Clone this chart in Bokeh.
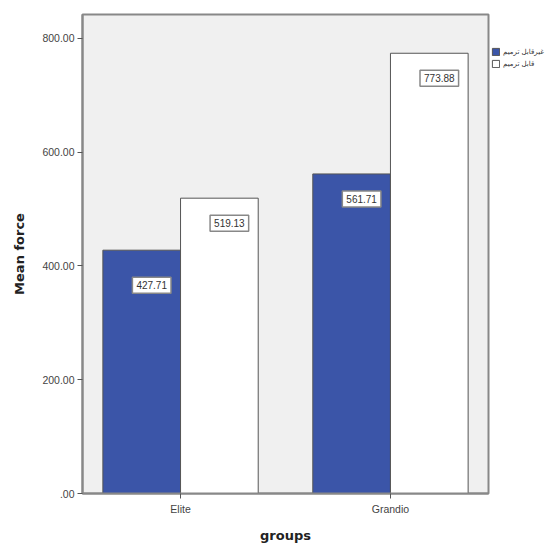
from bokeh.plotting import figure
from bokeh.models import (Range1d, ColumnDataSource, Legend, LegendItem, FixedTicker)
from bokeh.core.properties import value
from bokeh.transform import dodge
from bokeh.embed import file_html
from bokeh.resources import INLINE

groups = ["Elite", "Grandio"]
series_names = ["غیرقابل ترمیم", "قابل ترمیم"]
non_restorable = [427.71, 561.71]
restorable = [519.13, 773.88]
y_ticks = [0, 200, 400, 600, 800]
y_tick_labels = [".00", "200.00", "400.00", "600.00", "800.00"]

BLUE = "#3b55a8"
EDGE = "#555555"
BW = 0.37

xs = list(range(len(groups)))
src = ColumnDataSource(dict(
    x=xs,
    a=non_restorable,
    b=restorable,
    a_lbl=[f"{v:.2f}" for v in non_restorable],
    b_lbl=[f"{v:.2f}" for v in restorable],
    a_dy=[35, 25],
))

p = figure(frame_width=406, frame_height=479,
           x_range=Range1d(-0.467, 1.467), y_range=Range1d(0, 842),
           output_backend="svg", toolbar_location=None,
           min_border_left=82, min_border_right=70, min_border_top=14, min_border_bottom=50)
p.background_fill_color = "#f0f0f0"
p.border_fill_color = "white"
p.outline_line_color = "#888888"
p.outline_line_width = 2
p.xgrid.visible = False
p.ygrid.visible = False

r1 = p.vbar(x=dodge("x", -BW / 2), top="a", width=BW, source=src,
            fill_color=BLUE, line_color=EDGE, line_width=1)
r2 = p.vbar(x=dodge("x", BW / 2), top="b", width=BW, source=src,
            fill_color="white", line_color=EDGE, line_width=1)

lbl_style = dict(text_align="center", text_baseline="middle", text_font_size="10px",
                 text_color="#333333", text_font=value("Liberation Sans"),
                 background_fill_color="white", border_line_color="#888888",
                 border_line_width=1.5, padding=(4, 4))
p.text(x=dodge("x", -BW / 2), y="a", text="a_lbl", source=src,
       x_offset=10, y_offset="a_dy", **lbl_style)
p.text(x=dodge("x", BW / 2), y="b", text="b_lbl", source=src,
       x_offset=10, y_offset=25, **lbl_style)

# axes
p.xaxis.ticker = FixedTicker(ticks=xs)
p.xaxis.major_label_overrides = {i: g for i, g in enumerate(groups)}
p.xaxis.minor_tick_line_color = None
p.yaxis.ticker = FixedTicker(ticks=y_ticks)
p.yaxis.major_label_overrides = {t: l for t, l in zip(y_ticks, y_tick_labels)}
p.yaxis.minor_tick_line_color = None
for ax in (p.xaxis, p.yaxis):
    ax.axis_line_color = "#888888"
    ax.axis_line_width = 2
    ax.major_tick_line_color = "#555555"
    ax.major_tick_in = 0
    ax.major_tick_out = 5
    ax.major_label_text_font = "Liberation Sans"
    ax.major_label_text_font_size = "10.5px"
    ax.major_label_text_color = "#444444"
    ax.axis_label_text_font = "DejaVu Sans"
    ax.axis_label_text_font_style = "bold"
    ax.axis_label_text_color = "#222222"
    ax.axis_label_text_font_size = "13px"
p.xaxis.axis_label = "groups"
p.xaxis.axis_label_standoff = 10
p.xaxis.major_label_standoff = 4
p.yaxis.axis_label = "Mean force"
p.yaxis.axis_label_standoff = 12
p.yaxis.major_label_standoff = 3

legend = Legend(items=[LegendItem(label=series_names[0], renderers=[r1]),
                       LegendItem(label=series_names[1], renderers=[r2])],
                location="top_left", orientation="vertical",
                title=" ", title_text_font_size="24px", title_standoff=2,
                glyph_width=9, glyph_height=9, label_standoff=3, spacing=3,
                padding=0, margin=3, border_line_color=None,
                background_fill_alpha=0,
                label_text_font="DejaVu Sans", label_text_font_size="7px",
                label_text_color="#333333", label_height=9)
p.add_layout(legend, "right")

open("out.html", "w").write(file_html(p, INLINE))
